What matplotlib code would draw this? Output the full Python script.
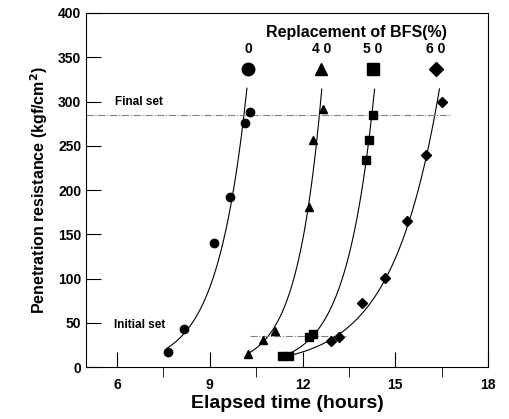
import numpy as np
import matplotlib.pyplot as plt

plt.rcParams["font.family"] = ["Liberation Sans Narrow", "Liberation Sans", "DejaVu Sans"]
plt.rcParams["font.weight"] = "bold"

# replacement of BFS (%) and measured penetration resistance
labels = ["0", "4 0", "5 0", "6 0"]
markers = ["o", "^", "s", "D"]
t_0 = [7.65, 8.16, 9.14, 9.65, 10.14, 10.30]
r_0 = [17, 43, 140, 192, 276, 288]
t_40 = [10.24, 10.72, 11.11, 12.20, 12.33, 12.65]
r_40 = [15, 31, 41, 181, 257, 292]
t_50 = [11.35, 11.55, 12.20, 12.33, 14.05, 14.16, 14.27]
r_50 = [13, 12, 34, 37, 234, 257, 285]
t_60 = [12.92, 13.19, 13.92, 14.65, 15.39, 16.00, 16.50]
r_60 = [29, 34, 72, 101, 165, 240, 300]
final_set = 285
initial_set = 35

series = [(t_0, r_0), (t_40, r_40), (t_50, r_50), (t_60, r_60)]
# start time of each drawn fit curve, curves stop at curve_top
curve_start = [7.62, 10.20, 11.55, 11.55]
curve_top = 316
header_x = [10.25, 12.61, 14.27, 16.32]
msize = [6, 5.5, 6, 5]
hsize = [9, 9, 8, 7.5]

fig = plt.figure(figsize=(5.09, 4.19), dpi=100)
ax = fig.add_axes([0.169, 0.124, 0.79, 0.845])

for (t, r), m, ms, hs, t0, hx, lab in zip(series, markers, msize, hsize,
                                         curve_start, header_x, labels):
    t = np.array(t)
    r = np.array(r, dtype=float)
    ax.plot(t, r, m, color="black", ms=ms, zorder=3)
    # exponential fit
    c = np.polyfit(t, np.log(r), 1)
    xs = np.linspace(t0, t.max() + 1.0, 400)
    ys = np.exp(np.polyval(c, xs))
    keep = ys <= curve_top
    ax.plot(xs[keep], ys[keep], color="black", lw=0.8)
    ax.plot(hx, 337, m, color="black", ms=hs, clip_on=False)
    ax.text(hx, 351, lab, ha="center", va="bottom", fontsize=10, fontweight="bold")

ax.text(13.74, 369, "Replacement of BFS(%)", ha="center", va="bottom",
        fontsize=11.5, fontweight="bold")

ax.plot([5, 16.8], [final_set, final_set], color="gray", lw=0.8, ls="-.")
ax.plot([10.3, 13.4], [initial_set, initial_set], color="gray", lw=0.8, ls="-.")
ax.text(5.95, 300, "Final set", fontsize=8.5, fontweight="bold", va="center")
ax.text(5.9, 47, "Initial set", fontsize=8.5, fontweight="bold", va="center")

ax.set_xlim(5, 18)
ax.set_ylim(0, 400)
ax.set_xticks([6, 9, 12, 15, 18])
ax.set_xticks([7.5, 10.5, 13.5, 16.5], minor=True)
ax.set_yticks(range(0, 401, 50))
ax.tick_params(axis="both", direction="in", labelsize=10)
ax.tick_params(axis="both", which="major", length=11)
ax.tick_params(axis="x", which="minor", length=7)
ax.tick_params(axis="x", pad=8)
for lbl in ax.get_xticklabels() + ax.get_yticklabels():
    lbl.set_fontweight("bold")

ax.set_xlabel("Elapsed time (hours)", fontsize=14, fontweight="bold", labelpad=2)
ax.set_ylabel("Penetration resistance (kgf/cm$^\\mathbf{2}$)", fontsize=11.5,
              fontweight="bold", labelpad=6)

fig.savefig("out.png", dpi=100)
